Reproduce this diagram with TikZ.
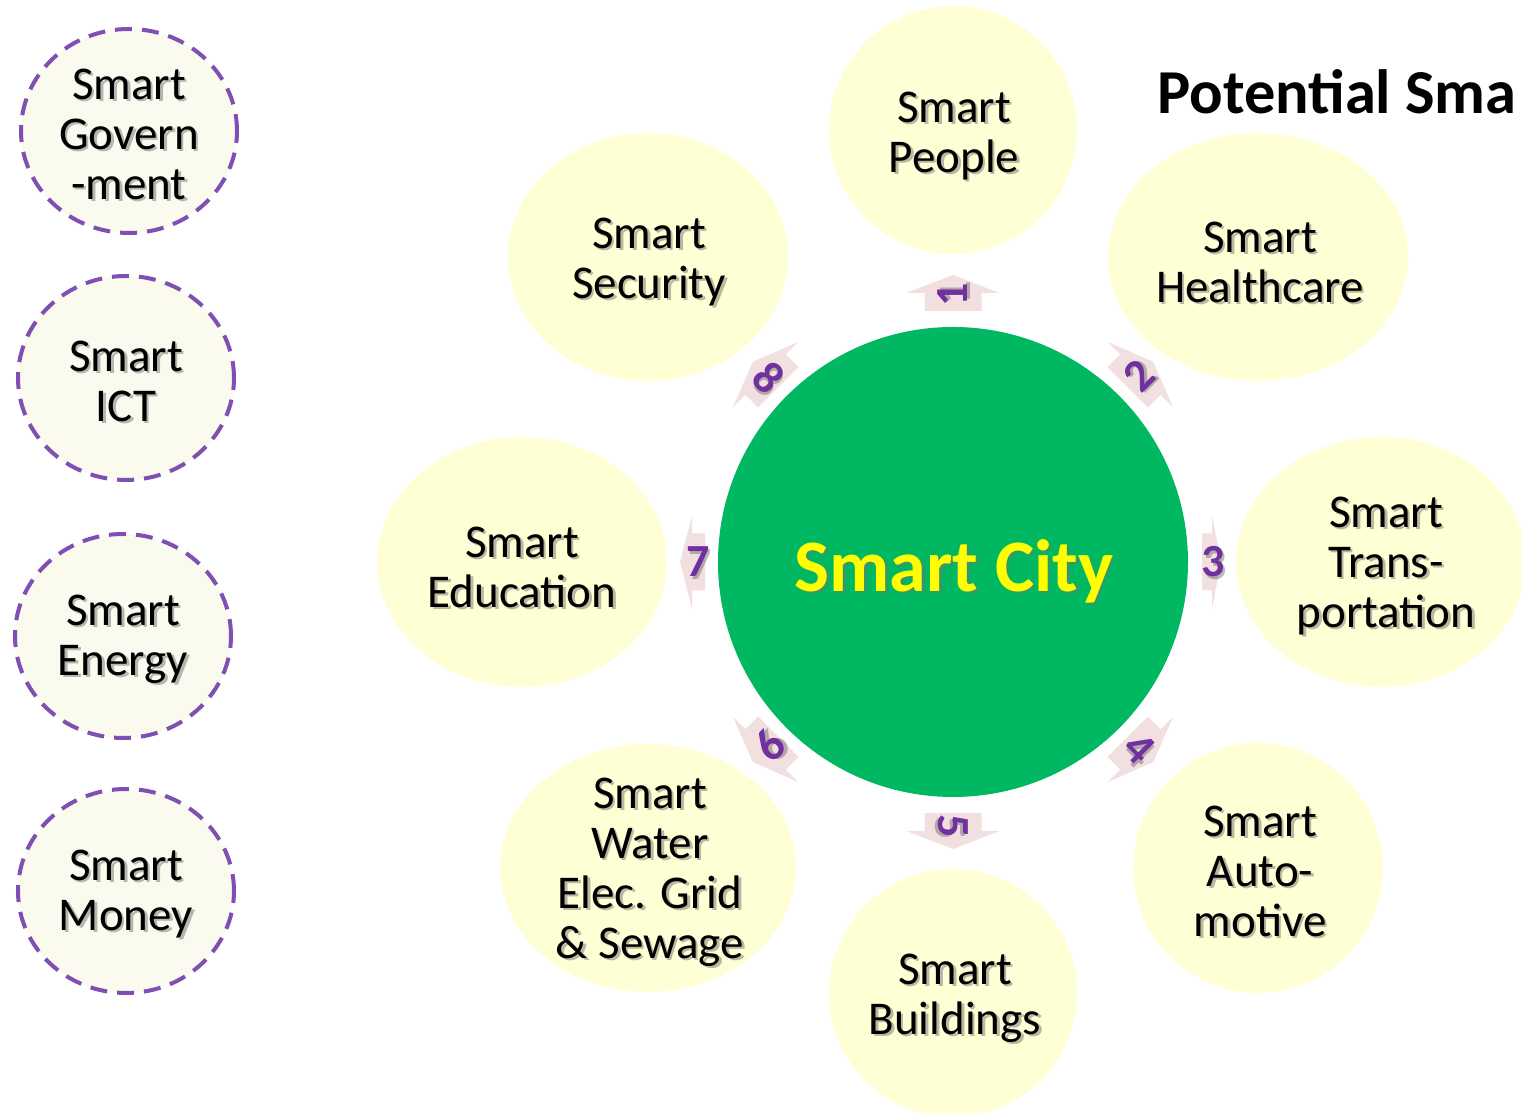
\documentclass[tikz,border=0pt]{standalone}
\usepackage{fontspec}
\setmainfont{Carlito}
\usetikzlibrary{shapes.geometric,calc}
\definecolor{cityGreen}{HTML}{00B862}
\definecolor{satFill}{HTML}{FFFFD5}
\definecolor{leftFill}{HTML}{FAFAEE}
\definecolor{dashPurple}{HTML}{7F4FB3}
\definecolor{numPurple}{HTML}{7030A0}
\definecolor{arrowPink}{HTML}{F2DFDF}
\definecolor{cityYellow}{HTML}{FFFF00}
\newcommand\shadowlabel[4]{%
  \node[#3, shd, xshift=2.5pt, yshift=-2.5pt] (#1s) at (#2) {#4};
  \node[#3] (#1) at (#2) {#4};}
\newcommand\pinkarrow[4]{%
  \begin{scope}[shift={(city.center)}, rotate=#1]
    \fill[arrowPink] (#2,-28.5) -- (#3,-28.5) -- (#3,-46.5) -- (#4,0) -- (#3,46.5) -- (#3,28.5) -- (#2,28.5) -- cycle;
  \end{scope}}
\tikzset{
  sat/.style={ellipse, fill=satFill, inner sep=0pt},
  side/.style={ellipse, fill=leftFill, draw=dashPurple, line width=4pt,
    dash pattern=on 17pt off 10pt, inner sep=0pt, minimum width=216pt, minimum height=204pt},
  lbl/.style={align=center, font=\fontsize{47}{50}\selectfont, text=black, inner sep=0pt},
  shd/.style={text=black!55, opacity=0.5},
  num/.style={font=\fontsize{46}{46}\selectfont\bfseries, text=numPurple, inner sep=0pt},
  citylbl/.style={font=\fontsize{74}{74}\selectfont\bfseries, text=cityYellow, inner sep=0pt},
}
\begin{document}
\begin{tikzpicture}[x=1pt,y=1pt]
\useasboundingbox (0,0) rectangle (1521,1113);

% left dashed circles
\node[side] (gov) at (129,982) {};
\node[side] (ict) at (126,735) {};
\node[side] (energy) at (123,477) {};
\node[side] (money) at (126,222) {};
\shadowlabel{govt}{129,979}{lbl}{Smart\\Govern\\-ment}
\shadowlabel{ictt}{126,732}{lbl}{Smart\\ICT}
\shadowlabel{energyt}{123,474}{lbl}{Smart\\Energy}
\shadowlabel{moneyt}{126,219}{lbl}{Smart\\Money}

% satellites
\node[sat, minimum width=248pt, minimum height=248pt] (e1) at (953,983) {};
\node[sat, minimum width=300pt, minimum height=248pt] (e2) at (1258,856) {};
\node[sat, minimum width=290pt, minimum height=250pt] (e3) at (1381,551) {};
\node[sat, minimum width=250pt, minimum height=250pt] (e4) at (1258,245) {};
\node[sat, minimum width=248pt, minimum height=248pt] (e5) at (953,120) {};
\node[sat, minimum width=296pt, minimum height=248pt] (e6) at (648,245) {};
\node[sat, minimum width=290pt, minimum height=250pt] (e7) at (522,551) {};
\node[sat, minimum width=280pt, minimum height=248pt] (e8) at (648,856) {};

\shadowlabel{t1}{954,977}{lbl}{Smart\\People}
\shadowlabel{t2}{1260,851}{lbl}{Smart\\Healthcare}
\shadowlabel{t3}{1386,547}{lbl}{Smart\\Trans-\\portation}
\shadowlabel{t4}{1260,242}{lbl}{Smart\\Auto-\\motive}
\shadowlabel{t5}{955,115}{lbl}{Smart\\Buildings}
\shadowlabel{t6}{650,241}{lbl}{Smart\\Water\\Elec. Grid\\\& Sewage}
\shadowlabel{t7}{522,546}{lbl}{Smart\\Education}
\shadowlabel{t8}{649,851}{lbl}{Smart\\Security}

% center
\node[circle, fill=cityGreen, minimum size=470pt, inner sep=0pt] (city) at (953,551) {};
\shadowlabel{cityt}{954,542}{citylbl}{Smart City}

% arrows
\pinkarrow{90}{251}{269}{287}
\pinkarrow{45}{247}{265}{283}
\pinkarrow{0}{249}{259}{268}
\pinkarrow{-45}{247}{265}{283}
\pinkarrow{-90}{251}{269}{287}
\pinkarrow{-135}{247}{265}{283}
\pinkarrow{180}{248}{261}{273}
\pinkarrow{135}{247}{265}{283}

\shadowlabel{n1}{$(city.center)+(90:267)$}{num, rotate=90}{1}
\shadowlabel{n2}{$(city.center)+(45:263)$}{num, rotate=45}{2}
\shadowlabel{n3}{$(city.center)+(0:260)$}{num}{3}
\shadowlabel{n4}{$(city.center)+(-45:264)$}{num, rotate=-45}{4}
\shadowlabel{n5}{$(city.center)+(-90:264)$}{num, rotate=-90}{5}
\shadowlabel{n6}{$(city.center)+(-135:259)$}{num, rotate=45}{6}
\shadowlabel{n7}{$(city.center)+(180:255)$}{num}{7}
\shadowlabel{n8}{$(city.center)+(135:261)$}{num, rotate=-45}{8}

% title
\node[anchor=base west, font=\fontsize{62.5}{62.5}\selectfont\bfseries, inner sep=0pt] (title) at (1157,999) {Potential Sma};
\end{tikzpicture}
\end{document}
